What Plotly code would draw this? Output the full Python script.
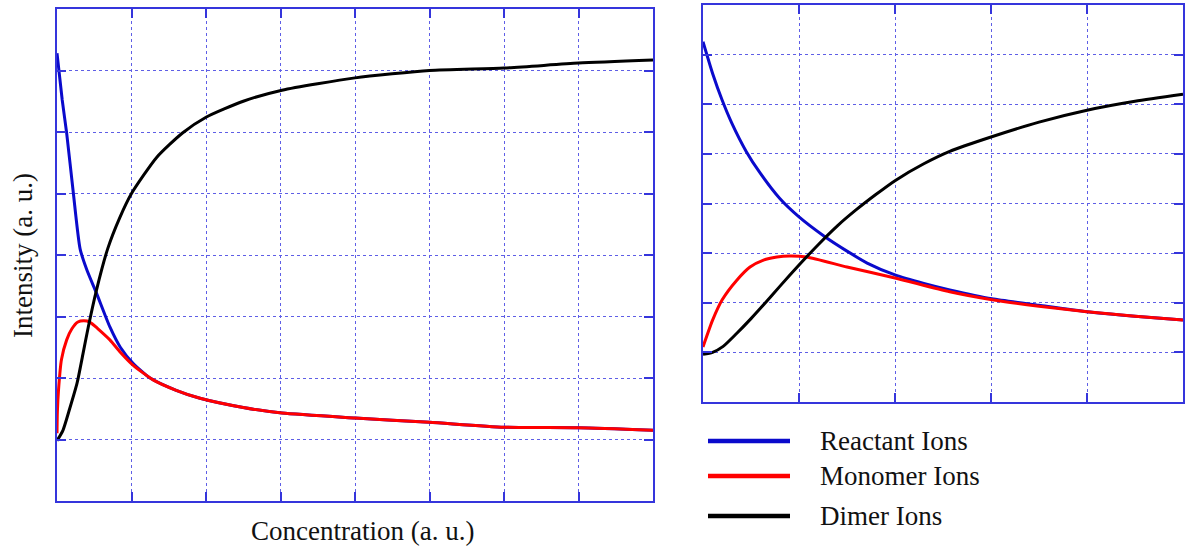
import plotly.graph_objects as go

# ---------------- data ----------------
series_names = ["Reactant Ions", "Monomer Ions", "Dimer Ions"]
series_colors = ["#0a0acc", "#ff0000", "#000000"]

# Left panel (x: 0-8, y: 0-8 grid units)
left_reactant_x = [0, 0.07, 0.13, 0.22, 0.31, 0.4, 0.53, 0.71, 0.85, 1.02, 1.25, 1.6, 1.92, 2.5, 3.02, 4, 5, 6, 7, 8]
left_reactant_y = [7.28, 6.52, 5.98, 5.0, 4.1, 3.76, 3.38, 2.83, 2.5, 2.24, 2.0, 1.8, 1.67, 1.52, 1.43, 1.35, 1.28, 1.2, 1.19, 1.15]

left_monomer_x = [0, 0.005, 0.02, 0.06, 0.13, 0.2, 0.28, 0.36, 0.44, 0.55, 0.71, 0.85, 1.02, 1.29, 1.6, 1.92, 2.5, 3.02, 4, 5, 6, 7, 8]
left_monomer_y = [1.1, 1.45, 1.8, 2.3, 2.62, 2.8, 2.91, 2.93, 2.91, 2.8, 2.62, 2.42, 2.21, 1.97, 1.8, 1.67, 1.52, 1.43, 1.35, 1.28, 1.2, 1.19, 1.15]

left_dimer_x = [0, 0.08, 0.17, 0.27, 0.35, 0.42, 0.53, 0.68, 0.84, 1.0, 1.34, 1.68, 2.0, 2.5, 3.02, 4, 5, 6, 7, 8]
left_dimer_y = [0.98, 1.15, 1.5, 1.92, 2.4, 2.83, 3.43, 4.1, 4.6, 5.0, 5.59, 5.98, 6.24, 6.5, 6.68, 6.88, 7.0, 7.04, 7.12, 7.17]

# Right panel (x: 0-5, y: 0-8 grid units)
right_reactant_x = [0, 0.1, 0.2, 0.3, 0.45, 0.6, 0.8, 1.0, 1.27, 1.5, 1.71, 2.0, 2.3, 2.57, 3.01, 3.5, 4.0, 4.5, 5.0]
right_reactant_y = [7.26, 6.62, 6.08, 5.62, 5.05, 4.6, 4.1, 3.73, 3.33, 3.04, 2.8, 2.56, 2.39, 2.26, 2.08, 1.95, 1.82, 1.73, 1.65]

right_monomer_x = [0, 0.1, 0.2, 0.35, 0.49, 0.63, 0.77, 0.9, 1.08, 1.5, 2.0, 2.57, 3.01, 3.5, 4.0, 4.5, 5.0]
right_monomer_y = [1.11, 1.65, 2.06, 2.45, 2.72, 2.86, 2.92, 2.94, 2.92, 2.72, 2.5, 2.22, 2.06, 1.93, 1.82, 1.73, 1.65]

right_dimer_x = [0, 0.1, 0.21, 0.35, 0.5, 0.65, 0.8, 1.0, 1.2, 1.4, 1.6, 1.8, 2.0, 2.3, 2.57, 3.0, 3.5, 4.0, 4.5, 5.0]
right_dimer_y = [0.96, 1.0, 1.12, 1.38, 1.68, 2.0, 2.33, 2.76, 3.17, 3.55, 3.88, 4.18, 4.46, 4.8, 5.05, 5.34, 5.64, 5.88, 6.06, 6.2]

x_title = "Concentration (a. u.)"
y_title = "Intensity (a. u.)"

# ---------------- figure ----------------
W, H = 1185, 550
FONT = "Liberation Serif, Times New Roman, serif"
FRAME = "#3535dc"
GRID = "#5f5fe6"

fig = go.Figure()

left = [(left_reactant_x, left_reactant_y), (left_monomer_x, left_monomer_y), (left_dimer_x, left_dimer_y)]
right = [(right_reactant_x, right_reactant_y), (right_monomer_x, right_monomer_y), (right_dimer_x, right_dimer_y)]

for (xs, ys), name, col in zip(left, series_names, series_colors):
    fig.add_trace(go.Scatter(x=xs, y=ys, mode="lines", name=name, showlegend=False,
                             line=dict(color=col, width=3, shape="spline", smoothing=0.6),
                             xaxis="x", yaxis="y"))
for (xs, ys), name, col in zip(right, series_names, series_colors):
    fig.add_trace(go.Scatter(x=xs, y=ys, mode="lines", name=name, showlegend=False,
                             line=dict(color=col, width=3, shape="spline", smoothing=0.6),
                             xaxis="x2", yaxis="y2"))

def ax(rng, domain, anchor):
    return dict(range=rng, domain=domain, anchor=anchor, dtick=1, tick0=0,
                showticklabels=False, ticks="inside", ticklen=9, tickwidth=2,
                tickcolor=FRAME, showline=True, linecolor=FRAME, linewidth=2,
                mirror="ticks", showgrid=True, gridcolor=GRID, gridwidth=1,
                griddash="dot", zeroline=False, fixedrange=True)

fig.update_layout(
    width=W, height=H, autosize=False,
    margin=dict(l=0, r=0, t=0, b=0),
    paper_bgcolor="white", plot_bgcolor="white",
    font=dict(family=FONT, size=27, color="#111111"),
    xaxis=ax([0, 8], [57 / W, 653 / W], "y"),
    yaxis=ax([0, 8], [(H - 501) / H, (H - 9) / H], "x"),
    xaxis2=ax([0, 5], [703 / W, 1183 / W], "y2"),
    yaxis2=ax([0, 8], [(H - 402) / H, (H - 5) / H], "x2"),
)

annotations = [
    dict(text=x_title, x=362 / W, y=(H - 531) / H, xref="paper", yref="paper",
         showarrow=False, xanchor="center", yanchor="middle",
         font=dict(family=FONT, size=27, color="#111111")),
    dict(text=y_title, x=23 / W, y=(H - 256) / H, xref="paper", yref="paper",
         showarrow=False, xanchor="center", yanchor="middle", textangle=-90,
         font=dict(family=FONT, size=27, color="#111111")),
]
shapes = []
legend_rows_y = [441, 476, 516]
for name, col, yy in zip(series_names, series_colors, legend_rows_y):
    shapes.append(dict(type="line", xref="paper", yref="paper",
                       x0=708 / W, x1=790 / W, y0=(H - yy) / H, y1=(H - yy) / H,
                       line=dict(color=col, width=4.5)))
    annotations.append(dict(text=name, x=818 / W, y=(H - yy) / H, xref="paper", yref="paper",
                            showarrow=False, xanchor="left", yanchor="middle",
                            font=dict(family=FONT, size=27, color="#111111")))
fig.update_layout(annotations=annotations, shapes=shapes)

fig.write_html("out.html", config={"displayModeBar": False},
               post_script="document.body.style.margin='0';document.body.style.overflow='hidden';")
